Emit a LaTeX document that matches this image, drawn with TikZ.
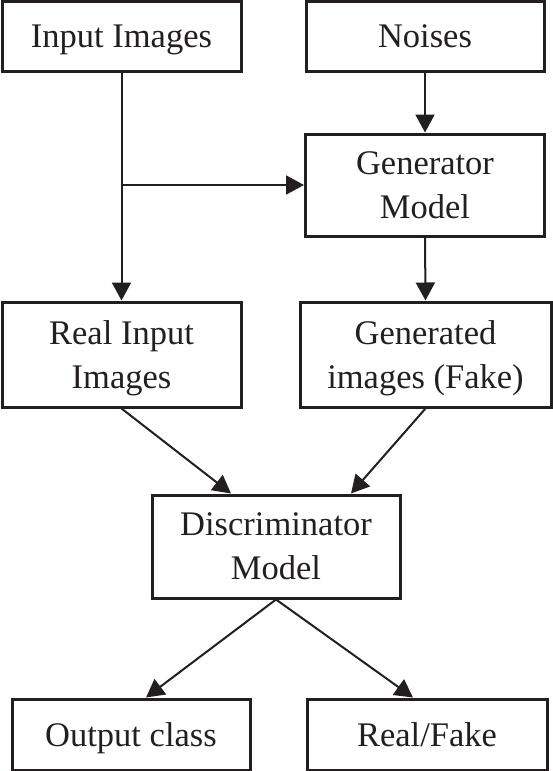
\documentclass[tikz,border=0pt]{standalone}
\usepackage{fontspec}
\setmainfont{Liberation Serif}
\usetikzlibrary{arrows.meta}
\definecolor{ink}{RGB}{35,31,32}

\begin{document}
\begin{tikzpicture}[x=1pt,y=-1pt,
  box/.style={draw=ink, line width=3pt, align=center, text=ink, inner sep=0pt,
    font=\fontsize{34.5}{44}\selectfont, text depth=0pt,
    execute at begin node={\rule{0pt}{23pt}}},
  twobox/.style={box, execute at begin node={\rule{0pt}{29pt}}},
  arr/.style={draw=ink, line width=2pt, -{Triangle[length=18pt,width=19pt]}}]
\useasboundingbox (0,0) rectangle (553,771);
 \node[box, minimum width=239pt, minimum height=70pt]  (inimg) at (121.5,36)  {Input Images};
 \node[box, minimum width=238pt, minimum height=70pt]  (noise) at (425,36)    {Noises};
 \node[twobox, minimum width=239pt, minimum height=102pt] (gen)   at (425,185)   {Generator\\Model};
 \node[twobox, minimum width=239pt, minimum height=105pt] (real)  at (121.5,354.5) {Real Input\\Images};
 \node[twobox, minimum width=251pt, minimum height=105pt] (fake)  at (425.5,354.5) {Generated\\images (Fake)};
 \node[twobox, minimum width=248pt, minimum height=103pt] (disc)  at (276,546.5) {Discriminator\\Model};
 \node[box, minimum width=238pt, minimum height=71pt]  (outc)  at (131,734.5) {Output class};
 \node[box, minimum width=240pt, minimum height=71pt]  (rf)    at (427,734.5) {Real/Fake};
 \coordinate (split) at (inimg.south |- gen.west);
 \draw[arr] (inimg.south) -- (real.north);
 \draw[arr] (split) -- (gen.west);
 \draw[arr] (noise.south) -- (gen.north);
 \draw[arr] (gen.south) -- (fake.north);
 \draw[arr] (real.south) -- ([xshift=-45pt]disc.north);
 \draw[arr] (fake.south) -- ([xshift=75pt]disc.north);
 \draw[arr] (disc.south) -- ([xshift=15pt]outc.north);
 \draw[arr] (disc.south) -- ([xshift=-14pt]rf.north);
\end{tikzpicture}
\end{document}
